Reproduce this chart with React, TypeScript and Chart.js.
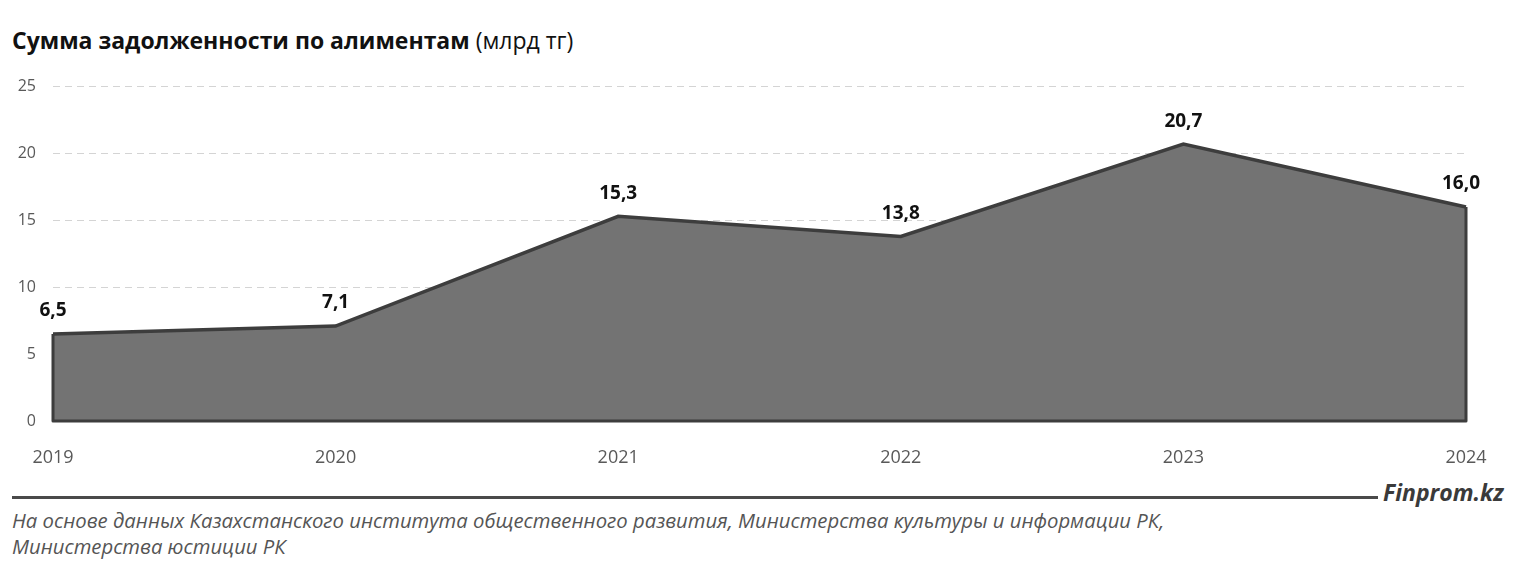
import React, { useEffect, useRef } from "react";
import { Chart, registerables } from "chart.js";

Chart.register(...registerables);

const categories = ["2019", "2020", "2021", "2022", "2023", "2024"];
const debtValues = [6.5, 7.1, 15.3, 13.8, 20.7, 16.0];
const yTicks = [0, 5, 10, 15, 20, 25];

const FONT = "'Open Sans', 'Noto Sans', sans-serif";

const outlinePlugin = {
  id: "outline",
  afterDatasetsDraw(chart: any) {
    const ctx = chart.ctx;
    const y = chart.scales.y;
    const meta = chart.getDatasetMeta(0);
    const pts = meta.data;
    if (!pts.length) return;
    const y0 = y.getPixelForValue(0);
    ctx.save();
    ctx.strokeStyle = "#3d3d3d";
    ctx.lineWidth = 3;
    ctx.lineJoin = "round";
    ctx.beginPath();
    ctx.moveTo(pts[0].x, pts[0].y);
    ctx.lineTo(pts[0].x, y0);
    ctx.lineTo(pts[pts.length - 1].x, y0);
    ctx.lineTo(pts[pts.length - 1].x, pts[pts.length - 1].y);
    ctx.stroke();
    ctx.restore();
  },
};

const labelPlugin = {
  id: "valueLabels",
  afterDatasetsDraw(chart: any) {
    const ctx = chart.ctx;
    const meta = chart.getDatasetMeta(0);
    ctx.save();
    ctx.font = `bold 19px ${FONT}`;
    ctx.fillStyle = "#111111";
    ctx.textAlign = "center";
    ctx.textBaseline = "middle";
    meta.data.forEach((p: any, i: number) => {
      const v = debtValues[i];
      const txt = v.toFixed(1).replace(".", ",");
      let dx = 0;
      if (i === meta.data.length - 1) dx = -5;
      ctx.fillText(txt, p.x + dx, p.y - 23);
    });
    ctx.restore();
  },
};

export default function App() {
  const ref = useRef<HTMLCanvasElement | null>(null);
  useEffect(() => {
    if (!ref.current) return;
    const chart = new Chart(ref.current, {
      type: "line",
      data: {
        labels: categories,
        datasets: [
          {
            data: debtValues,
            fill: "origin",
            backgroundColor: "#737373",
            borderColor: "#3d3d3d",
            borderWidth: 3.5,
            pointRadius: 0,
            tension: 0,
          },
        ],
      },
      options: {
        animation: false,
        responsive: false,
        maintainAspectRatio: false,
        layout: { padding: { top: 12, right: 41, left: 0, bottom: 0 } },
        plugins: { legend: { display: false }, tooltip: { enabled: false } },
        scales: {
          x: {
            offset: false,
            grid: { display: false },
            border: { display: true, color: "#c8c8c8", width: 2 },
            ticks: {
              color: "#595959",
              font: { family: FONT, size: 18 },
              padding: 18,
              maxRotation: 0,
              autoSkip: false,
            },
            afterFit(scale: any) {
              scale.height = 47;
            },
          },
          y: {
            min: 0,
            max: 25,
            afterBuildTicks(scale: any) {
              scale.ticks = yTicks.map((v) => ({ value: v }));
            },
            grid: {
              color: (c: any) => (c.tick && c.tick.value === 0 ? "rgba(0,0,0,0)" : "#d4d4d4"),
              lineWidth: 1,
              drawTicks: false,
            },
            border: { display: false, dash: [7, 5] },
            ticks: {
              color: "#595959",
              font: { family: FONT, size: 16 },
              padding: 17,
            },
            afterFit(scale: any) {
              scale.width = 45;
            },
          },
        },
      },
      plugins: [outlinePlugin, labelPlugin],
    });
    return () => chart.destroy();
  }, []);

  return (
    <div style={{ position: "relative", width: 1499, height: 553, fontFamily: FONT }}>
      <div
        style={{
          position: "absolute",
          left: 4,
          top: 17,
          fontSize: 23,
          lineHeight: "30px",
          color: "#111",
          whiteSpace: "nowrap",
        }}
      >
        <span style={{ fontWeight: 700 }}>Сумма задолженности по алиментам</span>
        <span> (млрд тг)</span>
      </div>
      <canvas
        ref={ref}
        width={1499}
        height={408}
        style={{ position: "absolute", left: 0, top: 52, width: 1499, height: 408 }}
      />
      <div
        style={{
          position: "absolute",
          left: 4,
          top: 488,
          width: 1366,
          height: 3,
          background: "#4a4a4a",
        }}
      />
      <div
        style={{
          position: "absolute",
          left: 1375,
          top: 469,
          fontSize: 23,
          lineHeight: "30px",
          fontWeight: 700,
          fontStyle: "italic",
          color: "#3a3a3a",
          whiteSpace: "nowrap",
        }}
      >
        Finprom.kz
      </div>
      <div
        style={{
          position: "absolute",
          left: 4,
          top: 499,
          fontSize: 20.3,
          fontStyle: "italic",
          color: "#555",
          lineHeight: "26px",
          whiteSpace: "nowrap",
        }}
      >
        На основе данных Казахстанского института общественного развития, Министерства культуры и информации РК,
        <br />
        Министерства юстиции РК
      </div>
    </div>
  );
}
